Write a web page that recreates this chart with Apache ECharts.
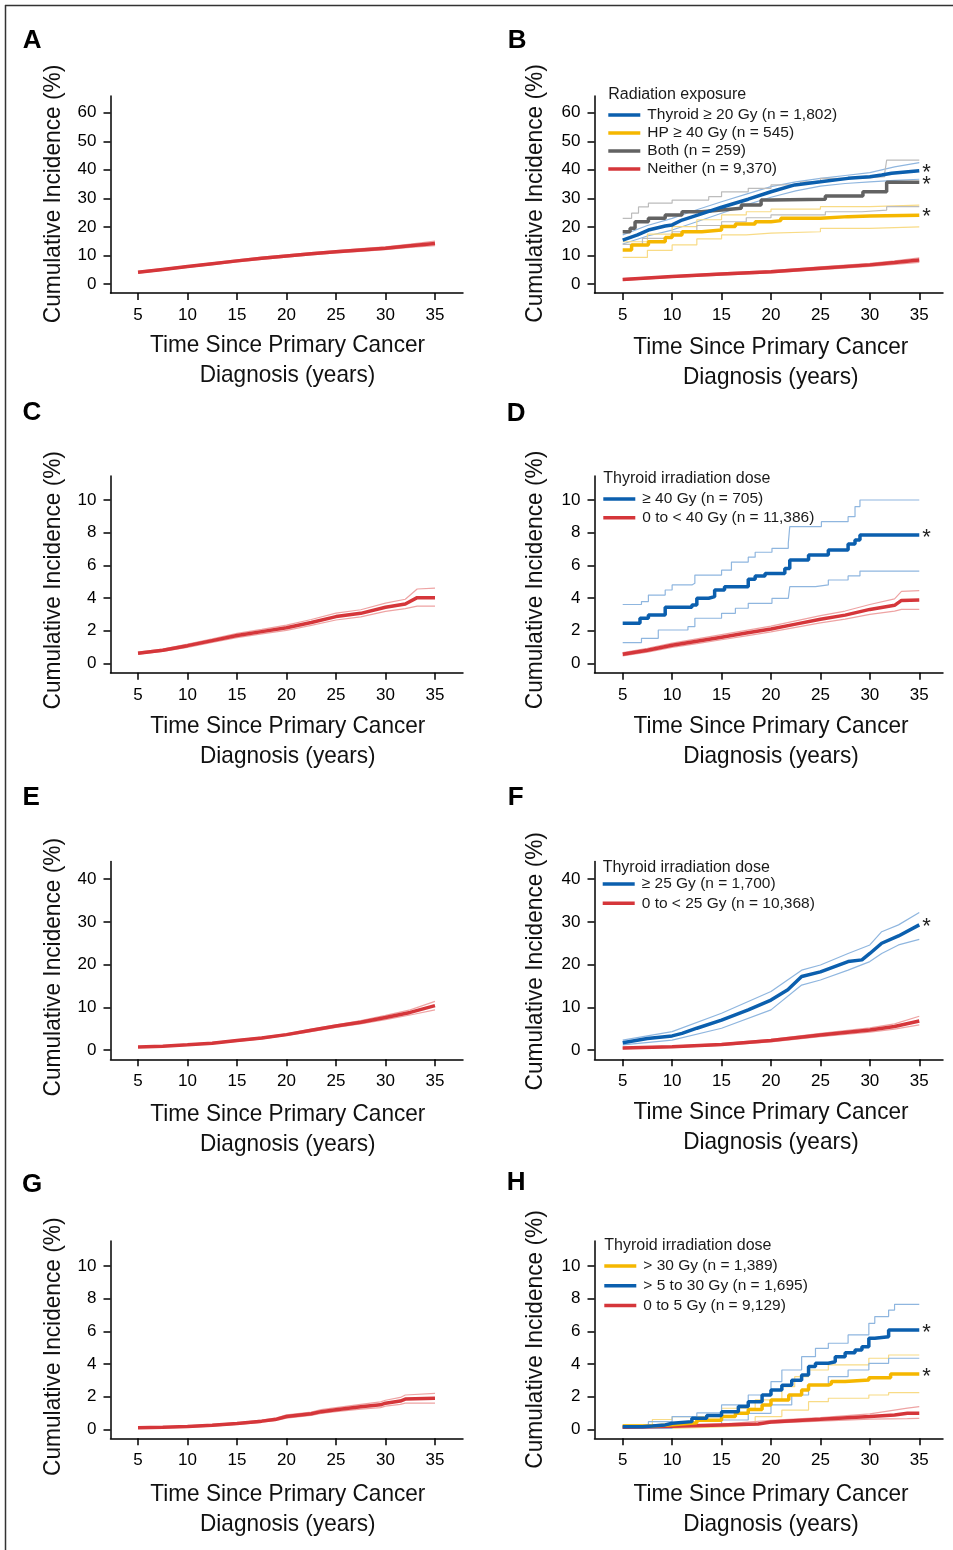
<!DOCTYPE html>
<html>
<head>
<meta charset="utf-8">
<script src="https://cdn.jsdelivr.net/npm/echarts@6/dist/echarts.min.js"></script>
<style>
  html, body { margin: 0; padding: 0; background: #fff; }
  #main { width: 953px; height: 1550px; }
</style>
</head>
<body>
<div id="main"></div>
<script>
// tick labels
var xTicks = [5, 10, 15, 20, 25, 30, 35];
var yTicks60 = [0, 10, 20, 30, 40, 50, 60];
var yTicks10 = [0, 2, 4, 6, 8, 10];
var yTicks40 = [0, 10, 20, 30, 40];

// A - all survivors
var aMain = [[5,4.1],[7.5,5.1],[10,6.1],[12.5,7.1],[15,8.1],[17.5,9.0],[20,9.8],[22.5,10.6],[25,11.3],[27.5,11.9],[30,12.5],[32.5,13.4],[35,14.2]];
var aLo = [[5,3.8],[7.5,4.8],[10,5.8],[12.5,6.8],[15,7.7],[17.5,8.6],[20,9.4],[22.5,10.2],[25,10.9],[27.5,11.4],[30,12.0],[32.5,12.8],[35,13.4]];
var aHi = [[5,4.4],[7.5,5.4],[10,6.4],[12.5,7.4],[15,8.5],[17.5,9.4],[20,10.2],[22.5,11.0],[25,11.7],[27.5,12.4],[30,13.0],[32.5,14.0],[35,15.0]];

// B - radiation exposure
var bThyMain = [[5,15.4],[6.5,17.2],[7.6,18.9],[9.3,20.3],[10,20.7],[11,22.4],[12.65,24.2],[15,26.9],[17.7,29.7],[20,32.3],[22.4,34.7],[25,35.8],[27.8,37],[30,37.6],[31.2,38.2],[32.2,38.8],[35,39.7]];
var bThyLo = [[5,14],[7.5,16.8],[10,18.9],[12.5,21.8],[15,24.8],[17.5,27.7],[20,30.4],[22.5,32.6],[25,34.3],[27.5,35.2],[30,35.8],[32.5,36.3],[35,36.7]];
var bThyHi = [[5,17.2],[7.5,20.5],[10,23],[12.5,26],[15,28.8],[17.5,31.5],[20,34.1],[22.5,35.8],[25,37],[27.5,38],[30,39],[32.5,41],[35,42.5]];
var bHpMain = [[5,11.9],[5.9,13.7],[7.6,14.8],[9.3,16.3],[10,17.2],[11,18.3],[13,18.9],[15,20.1],[16.4,21],[18.4,21.8],[20,22.2],[21,23],[25,23.6],[27.8,23.8],[30,24.1],[35,24.2]];
var bHpLo = [[5,9.3],[7.5,11.8],[10,13.7],[12.5,15.8],[15,17.2],[17.5,17.8],[20,18.3],[25,19.5],[30,20],[35,20.1]];
var bHpHi = [[5,14.8],[7.5,17.5],[10,20.1],[12.5,22.5],[15,24.2],[17.5,25.3],[20,26.2],[25,27.1],[30,27.6],[35,27.7]];
var bBothMain = [[5,18.3],[5.75,19.5],[6.25,21.8],[7.6,23],[9.3,24.2],[11,25.3],[13,25.9],[15,26.5],[17,27.7],[19,29.4],[20,29.7],[25.5,30.8],[29.3,32.3],[31.7,35.6],[35,35.6]];
var bBothLo = [[5,13.9],[7,16],[10,18.3],[12.5,20.5],[15,21.8],[17.5,23.2],[20,24.2],[25.5,25.3],[29.2,25.9],[31.7,27.1],[35,27.1]];
var bBothHi = [[5,23],[5.9,24.8],[6.6,27],[7.6,28.3],[10,29.4],[13.7,30.6],[15,32.3],[17.7,33.5],[20,34.7],[23,35.8],[25,37],[29.2,37.6],[31.5,38.8],[31.7,43.4],[35,43.4]];
var bNoMain = [[5,1.6],[10,2.6],[15,3.5],[20,4.3],[25,5.5],[30,6.7],[32.5,7.5],[35,8.4]];
var bNoLo = [[5,1.3],[10,2.3],[15,3.1],[20,3.9],[25,5.0],[30,6.2],[32.5,6.9],[35,7.6]];
var bNoHi = [[5,1.9],[10,2.9],[15,3.9],[20,4.7],[25,6.0],[30,7.2],[32.5,8.1],[35,9.2]];

// C - all survivors
var cMain = [[5,0.62],[7.5,0.8],[10,1.08],[12.5,1.39],[15,1.7],[17.5,1.94],[20,2.18],[22.5,2.5],[25,2.86],[27.5,3.06],[30,3.43],[32,3.63],[33.2,4.02],[35,4.02]];
var cLo = [[5,0.56],[7.5,0.73],[10,0.98],[12.5,1.28],[15,1.57],[17.5,1.8],[20,2.02],[22.5,2.32],[25,2.65],[27.5,2.84],[30,3.18],[32,3.35],[33.2,3.5],[35,3.5]];
var cHi = [[5,0.68],[7.5,0.87],[10,1.18],[12.5,1.5],[15,1.83],[17.5,2.08],[20,2.34],[22.5,2.68],[25,3.07],[27.5,3.28],[30,3.68],[32,3.92],[33.2,4.55],[35,4.6]];

// D - thyroid dose 40 Gy
var dHighMain = [[5,2.45],[6.75,2.76],[7.6,2.96],[9.3,3.43],[12,3.57],[12.5,3.98],[13.7,4.08],[14.3,4.49],[15.3,4.69],[17.7,5.14],[18.4,5.35],[19.4,5.5],[21.4,5.8],[21.9,6.33],[23.8,6.63],[25.8,6.94],[27.8,7.3],[28.5,7.55],[29,7.86],[35,7.86]];
var dHighLo = [[5,1.27],[6.9,1.53],[8.6,2.04],[11.6,2.24],[12.3,2.76],[15,3.06],[16.4,3.37],[17.7,3.67],[20.1,3.98],[21.75,4.08],[21.9,4.69],[24.5,4.8],[25.8,5.1],[27.8,5.35],[29,5.65],[35,5.65]];
var dHighHi = [[5,3.6],[6.9,3.78],[7.6,4.18],[9.3,4.49],[10,4.8],[12,4.9],[12.3,5.4],[15,5.7],[16,6.2],[17.7,6.5],[18.4,6.8],[20.1,7.04],[21.75,7.35],[21.9,8.37],[25.1,8.67],[27.8,8.98],[28.5,9.6],[29,10.0],[35,10.0]];
var dLowMain = [[5,0.55],[7.5,0.8],[10,1.1],[12.5,1.35],[15,1.6],[17.5,1.85],[20,2.1],[22.5,2.4],[25,2.7],[27.5,2.95],[30,3.3],[32.5,3.55],[33.2,3.85],[35,3.88]];
var dLowLo = [[5,0.45],[7.5,0.68],[10,0.97],[12.5,1.2],[15,1.44],[17.5,1.68],[20,1.92],[22.5,2.2],[25,2.48],[27.5,2.7],[30,3.0],[32.5,3.2],[33.2,3.3],[35,3.3]];
var dLowHi = [[5,0.65],[7.5,0.92],[10,1.23],[12.5,1.5],[15,1.76],[17.5,2.02],[20,2.28],[22.5,2.6],[25,2.92],[27.5,3.2],[30,3.6],[32.5,3.95],[33.2,4.4],[35,4.45]];

// E - all survivors
var eMain = [[5,0.7],[7.5,0.9],[10,1.2],[12.5,1.6],[15,2.2],[17.5,2.8],[20,3.6],[22.5,4.6],[25,5.6],[27.5,6.5],[30,7.6],[32.5,8.8],[35,10.4]];
var eLo = [[5,0.6],[7.5,0.8],[10,1.1],[12.5,1.5],[15,2.0],[17.5,2.6],[20,3.4],[22.5,4.3],[25,5.3],[27.5,6.1],[30,7.1],[32.5,8.2],[35,9.4]];
var eHi = [[5,0.8],[7.5,1.0],[10,1.3],[12.5,1.8],[15,2.4],[17.5,3.0],[20,3.8],[22.5,4.9],[25,5.9],[27.5,6.9],[30,8.1],[32.5,9.4],[35,11.4]];

// F - thyroid dose 25 Gy
var fHighMain = [[5,1.7],[7.5,2.7],[10,3.3],[11,3.9],[12.5,5.1],[15,7.0],[17.7,9.4],[20,11.7],[21.7,14.1],[23.1,17.2],[25,18.3],[27.8,20.7],[29.2,21.1],[30,22.6],[31.2,25],[32.9,26.7],[35,29.3]];
var fHighLo = [[5,1.2],[10,2.3],[15,5.1],[20,9.4],[23.1,15.2],[25,16.4],[27.8,18.7],[30,20.7],[31.2,22.6],[32.9,24.6],[35,25.9]];
var fHighHi = [[5,2.3],[10,4.3],[15,8.6],[20,13.7],[23.1,18.7],[25,19.9],[27.8,22.6],[30,24.6],[31.2,27.7],[32.9,29.3],[35,32.2]];
var fLowMain = [[5,0.45],[10,0.75],[15,1.3],[20,2.2],[25,3.5],[30,4.7],[32.5,5.5],[35,6.8]];
var fLowLo = [[5,0.3],[10,0.6],[15,1.1],[20,1.9],[25,3.1],[30,4.2],[32.5,4.9],[35,5.9]];
var fLowHi = [[5,0.6],[10,0.9],[15,1.5],[20,2.5],[25,3.9],[30,5.2],[32.5,6.1],[35,7.9]];

// G - all survivors
var gMain = [[5,0.1],[7.5,0.12],[10,0.17],[12.5,0.25],[15,0.35],[17.5,0.5],[19,0.62],[20,0.78],[22.5,0.95],[23.5,1.08],[25,1.2],[27.5,1.38],[29.5,1.5],[30,1.6],[31.5,1.73],[32,1.85],[35,1.9]];
var gLo = [[5,0.08],[7.5,0.09],[10,0.13],[12.5,0.2],[15,0.3],[17.5,0.43],[19,0.55],[20,0.68],[22.5,0.85],[23.5,0.97],[25,1.08],[27.5,1.23],[29.5,1.33],[30,1.42],[31.5,1.53],[32,1.6],[35,1.6]];
var gHi = [[5,0.12],[7.5,0.15],[10,0.21],[12.5,0.3],[15,0.4],[17.5,0.57],[19,0.7],[20,0.88],[22.5,1.05],[23.5,1.2],[25,1.33],[27.5,1.53],[29.5,1.68],[30,1.78],[31.5,1.95],[32,2.1],[35,2.2]];

// H - thyroid dose 3 groups
var hHighMain = [[5,0.2],[8,0.28],[10,0.4],[12.5,0.55],[15,0.78],[16.4,0.98],[17.7,1.22],[19.1,1.49],[20,1.8],[21.8,2.1],[23.1,2.4],[23.8,2.71],[25.8,2.78],[26.1,2.92],[27.5,3.02],[29.9,3.16],[32.1,3.39],[35,3.39]];
var hHighLo = [[5,0.06],[10,0.15],[15,0.27],[18.4,0.78],[21.1,1.18],[23.8,1.69],[25.8,1.9],[29.9,2.1],[31.9,2.24],[35,2.24]];
var hHighHi = [[5,0.27],[8,0.6],[10,0.78],[15,1.29],[18.4,1.8],[21.1,2.61],[22.4,3.22],[23.8,3.63],[25.8,3.94],[29.9,4.35],[31.9,4.55],[35,4.55]];
var hMidMain = [[5,0.16],[7,0.2],[8,0.27],[9.3,0.37],[10,0.47],[12,0.67],[13.5,0.85],[15,1.08],[16.7,1.39],[17.7,1.69],[19.1,2.1],[20,2.4],[21.1,2.7],[22.1,3.0],[23.1,3.33],[23.8,3.84],[24.5,4.04],[25.8,4.14],[26.5,4.45],[27.5,4.69],[28.5,4.86],[29.2,5.06],[29.9,5.57],[30.5,5.67],[31.9,6.08],[35,6.08]];
var hMidLo = [[5,0.06],[10,0.27],[15,0.57],[17.7,0.98],[20,1.49],[22.1,2.1],[23.8,2.71],[25.8,3.22],[27.8,3.63],[29.9,4.04],[31.9,4.35],[35,4.35]];
var hMidHi = [[5,0.16],[7.6,0.47],[10,0.78],[12.5,1.0],[15,1.49],[17.7,2.1],[20,2.92],[21.1,3.63],[23.1,4.45],[24.5,4.96],[25.8,5.27],[27.8,5.78],[29.9,6.49],[30.5,6.9],[31.9,7.3],[32.5,7.65],[35,7.65]];
var hLowMain = [[5,0.12],[10,0.18],[15,0.27],[18.7,0.33],[20,0.45],[25,0.61],[30,0.78],[32.5,0.88],[33.8,0.98],[35,0.98]];
var hLowLo = [[5,0.1],[10,0.14],[15,0.22],[20,0.38],[25,0.5],[30,0.62],[33.8,0.65],[35,0.67]];
var hLowHi = [[5,0.14],[10,0.22],[15,0.32],[20,0.55],[25,0.72],[30,0.95],[33.8,1.3],[35,1.39]];

var FONT = "'Liberation Sans', Arial, Helvetica, sans-serif";
var BLUE = '#0b5fae', BLUE_CI = '#8fb6df';
var YEL = '#f5b700', YEL_CI = '#f8db86';
var GRAY = '#626262', GRAY_CI = '#bcbcbc';
var RED = '#d5363a', RED_CI = '#eea3a3';

// layout: 2 columns x 4 rows, pixel boxes matched to the figure
var cols = [
  { left: 110.5, width: 352.5, min: 2.22, max: 37.83 },
  { left: 594.5, width: 348.5, min: 2.148, max: 37.40 }
];
var rows = [
  { top: 96, height: 197, min: -3.15, max: 65.85, ticks: yTicks60 },
  { top: 476, height: 196.7, min: -0.576, max: 11.47, ticks: yTicks10 },
  { top: 861.5, height: 197.8, min: -2.18, max: 44.14, ticks: yTicks40 },
  { top: 1241, height: 197.3, min: -0.551, max: 11.53, ticks: yTicks10 }
];

var grids = [], xAxes = [], yAxes = [];
for (var p = 0; p < 8; p++) {
  var c = cols[p % 2], r = rows[Math.floor(p / 2)];
  grids.push({ left: c.left, top: r.top, width: c.width, height: r.height, outerBoundsMode: 'none' });
  xAxes.push({
    type: 'value', gridIndex: p, min: c.min, max: c.max,
    axisLine: { show: true, onZero: false, lineStyle: { color: '#000', width: 1.5 } },
    axisTick: { show: true, length: 7, customValues: xTicks, lineStyle: { color: '#000', width: 1.5 } },
    axisLabel: { customValues: xTicks, margin: 14, fontSize: 17, color: '#000', fontFamily: FONT },
    splitLine: { show: false }
  });
  yAxes.push({
    type: 'value', gridIndex: p, min: r.min, max: r.max,
    axisLine: { show: true, onZero: false, lineStyle: { color: '#000', width: 1.5 } },
    axisTick: { show: true, length: 7, customValues: r.ticks, lineStyle: { color: '#000', width: 1.5 } },
    axisLabel: { customValues: r.ticks, margin: 14, fontSize: 17, color: '#000', fontFamily: FONT },
    splitLine: { show: false }
  });
}

var series = [];
function add(p, data, color, w, extra) {
  series.push(Object.assign({
    type: 'line', xAxisIndex: p, yAxisIndex: p, data: data,
    showSymbol: false, symbol: 'none', silent: true, animation: false,
    lineStyle: { color: color, width: w }, itemStyle: { color: color },
    z: w > 2 ? 4 : 2
  }, extra || {}));
}
var star = {
  endLabel: { show: true, formatter: '*', fontSize: 22, color: '#222', fontFamily: FONT, distance: 3, offset: [0, 2.5] }
};
var MAIN = 3.5, CI = 1.2;

// A
add(0, aLo, RED_CI, CI); add(0, aHi, RED_CI, CI); add(0, aMain, RED, MAIN);
// B
add(1, bThyLo, BLUE_CI, CI); add(1, bThyHi, BLUE_CI, CI);
add(1, bHpLo, YEL_CI, CI, { step: 'end' }); add(1, bHpHi, YEL_CI, CI, { step: 'end' });
add(1, bBothLo, GRAY_CI, CI, { step: 'end' }); add(1, bBothHi, GRAY_CI, CI, { step: 'end' });
add(1, bNoLo, RED_CI, CI); add(1, bNoHi, RED_CI, CI);
add(1, bNoMain, RED, MAIN, { name: 'Neither (n = 9,370)' });
add(1, bHpMain, YEL, MAIN, Object.assign({ name: 'HP \u2265 40 Gy (n = 545)', step: 'end' }, star));
add(1, bBothMain, GRAY, MAIN, Object.assign({ name: 'Both (n = 259)', step: 'end' }, star));
add(1, bThyMain, BLUE, MAIN, Object.assign({ name: 'Thyroid \u2265 20 Gy (n = 1,802)' }, star));
// C
add(2, cLo, RED_CI, CI); add(2, cHi, RED_CI, CI); add(2, cMain, RED, MAIN);
// D
add(3, dHighLo, BLUE_CI, CI, { step: 'end' }); add(3, dHighHi, BLUE_CI, CI, { step: 'end' });
add(3, dLowLo, RED_CI, CI); add(3, dLowHi, RED_CI, CI);
add(3, dLowMain, RED, MAIN, { name: '0 to < 40 Gy (n = 11,386)' });
add(3, dHighMain, BLUE, MAIN, Object.assign({ name: '\u2265 40 Gy (n = 705)', step: 'end' }, star));
// E
add(4, eLo, RED_CI, CI); add(4, eHi, RED_CI, CI); add(4, eMain, RED, MAIN);
// F
add(5, fHighLo, BLUE_CI, CI); add(5, fHighHi, BLUE_CI, CI);
add(5, fLowLo, RED_CI, CI); add(5, fLowHi, RED_CI, CI);
add(5, fLowMain, RED, MAIN, { name: '0 to < 25 Gy (n = 10,368)' });
add(5, fHighMain, BLUE, MAIN, Object.assign({ name: '\u2265 25 Gy (n = 1,700)' }, star));
// G
add(6, gLo, RED_CI, CI); add(6, gHi, RED_CI, CI); add(6, gMain, RED, MAIN);
// H
add(7, hHighLo, YEL_CI, CI, { step: 'end' }); add(7, hHighHi, YEL_CI, CI, { step: 'end' });
add(7, hMidLo, BLUE_CI, CI, { step: 'end' }); add(7, hMidHi, BLUE_CI, CI, { step: 'end' });
add(7, hLowLo, RED_CI, CI); add(7, hLowHi, RED_CI, CI);
add(7, hLowMain, RED, MAIN, { name: '0 to 5 Gy (n = 9,129)' });
add(7, hHighMain, YEL, MAIN, Object.assign({ name: '> 30 Gy (n = 1,389)', step: 'end' }, star));
add(7, hMidMain, BLUE, MAIN, Object.assign({ name: '> 5 to 30 Gy (n = 1,695)', step: 'end' }, star));

function legend(left, top, lh, names) {
  return {
    left: left, top: top, orient: 'vertical', icon: 'rect',
    itemWidth: 32, itemHeight: 3.5, itemGap: 0, padding: 0, selectedMode: false,
    textStyle: { fontSize: 15.5, fontFamily: FONT, color: '#1a1a1a', lineHeight: lh, padding: [0, 0, 0, 2] },
    data: names
  };
}
var legends = [
  legend(608.3, 106, 18, ['Thyroid \u2265 20 Gy (n = 1,802)', 'HP \u2265 40 Gy (n = 545)', 'Both (n = 259)', 'Neither (n = 9,370)']),
  legend(603.3, 489.6, 18.7, ['\u2265 40 Gy (n = 705)', '0 to < 40 Gy (n = 11,386)']),
  legend(602.7, 874.3, 19.3, ['\u2265 25 Gy (n = 1,700)', '0 to < 25 Gy (n = 10,368)']),
  legend(604.3, 1256, 19.8, ['> 30 Gy (n = 1,389)', '> 5 to 30 Gy (n = 1,695)', '0 to 5 Gy (n = 9,129)'])
];

var graphic = [
  { type: 'line', shape: { x1: 5, y1: 5.5, x2: 953, y2: 5.5 }, style: { stroke: '#333', lineWidth: 1.5 } },
  { type: 'line', shape: { x1: 5.5, y1: 5, x2: 5.5, y2: 1550 }, style: { stroke: '#333', lineWidth: 1.5 } }
];
var letters = [['A', 22.7, 41], ['B', 507.8, 41], ['C', 22.5, 413.3], ['D', 506.8, 414], ['E', 22.5, 797.5], ['F', 507.8, 797.5], ['G', 22, 1184.5], ['H', 506.8, 1183.3]];
letters.forEach(function (l) {
  graphic.push({ type: 'text', x: l[1], y: l[2], style: { text: l[0], fontSize: 26, fontWeight: 'bold', fontFamily: FONT, fill: '#000', align: 'left', verticalAlign: 'middle' } });
});
var yTitlePos = [[53.3, 194], [535, 193.5], [53.3, 580.3], [535.5, 580], [53.3, 967.2], [535, 961.3], [53.3, 1346.7], [535.5, 1339.5]];
yTitlePos.forEach(function (q) {
  graphic.push({ type: 'text', x: q[0], y: q[1], rotation: Math.PI / 2, scaleX: 0.945,
    style: { text: 'Cumulative Incidence (%)', fontSize: 24, fontFamily: FONT, fill: '#111', align: 'center', verticalAlign: 'middle' } });
});
var xTitlePos = [[287.5, 360], [770.8, 362.5], [287.8, 741.7], [771, 741.8], [287.8, 1129.3], [771, 1127], [287.8, 1509.3], [771, 1509.3]];
xTitlePos.forEach(function (q) {
  graphic.push({ type: 'text', x: q[0], y: q[1], scaleX: 0.94,
    style: { text: 'Time Since Primary Cancer\nDiagnosis (years)', fontSize: 24, lineHeight: 30, fontFamily: FONT, fill: '#111', align: 'center', verticalAlign: 'middle' } });
});
var legendTitles = [['Radiation exposure', 608.3, 94.3], ['Thyroid irradiation dose', 603.3, 478.3], ['Thyroid irradiation dose', 602.7, 867.3], ['Thyroid irradiation dose', 604.3, 1246]];
legendTitles.forEach(function (t) {
  graphic.push({ type: 'text', x: t[1], y: t[2], style: { text: t[0], fontSize: 16, fontFamily: FONT, fill: '#1a1a1a', align: 'left', verticalAlign: 'middle' } });
});

var myChart = echarts.init(document.getElementById('main'), null, { renderer: 'canvas' });
myChart.setOption({
  animation: false,
  backgroundColor: '#fff',
  grid: grids,
  xAxis: xAxes,
  yAxis: yAxes,
  legend: legends,
  series: series,
  graphic: graphic
});
</script>
</body>
</html>
